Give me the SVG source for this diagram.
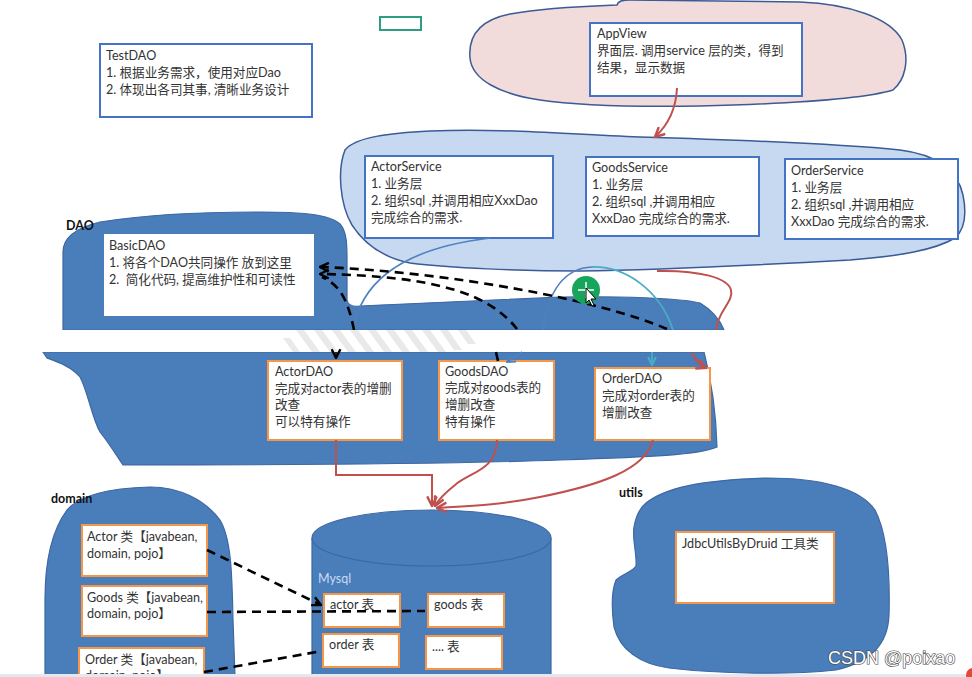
<svg xmlns="http://www.w3.org/2000/svg" width="972" height="677" viewBox="0 0 972 677">
<defs>
<style>
.t{font-family:Lato,"Noto Sans CJK SC",sans-serif;font-size:12.6px;fill:#333}
.lbl{font-family:Lato,"Noto Sans CJK SC",sans-serif;font-size:12.5px;font-weight:bold;fill:#111}
.bbox{fill:#fff;stroke:#4472c4;stroke-width:2}
.obox{fill:#fff;stroke:#f79646;stroke-width:2}
.wbox{fill:#fff}
.blob{fill:#4a7ebb;stroke:#3d68a3;stroke-width:1.2}
.dash{fill:none;stroke:#000;stroke-width:2.6;stroke-dasharray:9 6}
.red{fill:none;stroke:#c0504d;stroke-width:2}
.blue{fill:none;stroke:#4f81bd;stroke-width:1.6}
.cyan{fill:none;stroke:#4bacc6;stroke-width:1.8}
</style>
<marker id="mBlack" viewBox="0 0 10 10" refX="9" refY="5" markerWidth="11" markerHeight="11" orient="auto" markerUnits="userSpaceOnUse"><path d="M1,1 L9,5 L1,9" fill="none" stroke="#000" stroke-width="2.2"/></marker>
<marker id="mRed" viewBox="0 0 10 10" refX="9" refY="5" markerWidth="12" markerHeight="12" orient="auto" markerUnits="userSpaceOnUse"><path d="M1,1 L9,5 L1,9" fill="none" stroke="#c0504d" stroke-width="2"/></marker>
<marker id="mCyan" viewBox="0 0 10 10" refX="9" refY="5" markerWidth="10" markerHeight="10" orient="auto" markerUnits="userSpaceOnUse"><path d="M1,1 L9,5 L1,9" fill="none" stroke="#4bacc6" stroke-width="2"/></marker>
<marker id="mBlue" viewBox="0 0 10 10" refX="9" refY="5" markerWidth="10" markerHeight="10" orient="auto" markerUnits="userSpaceOnUse"><path d="M1,1 L9,5 L1,9" fill="none" stroke="#4f81bd" stroke-width="2"/></marker>
</defs>
<rect width="972" height="677" fill="#fff"/>

<g id="regions">
<path id="appview-region" d="M470,58 C468,35 480,20 510,14 C550,7 590,6 617,5 C618,1 622,0 630,0 L800,2 C850,4 890,18 902,40 C910,60 905,80 893,90 C860,100 780,104 700,106 C640,107 580,106 540,100 C500,94 472,80 470,58 Z" fill="#f2dcdb" stroke="#3b5a96" stroke-width="1.5"/>
<path id="service-region" d="M345,150 C355,137 390,133 430,131 C500,128 560,134 640,137 C740,140 840,144 900,150 C940,155 958,172 963,195 C967,215 964,230 955,238 C935,250 900,256 850,260 C760,265 660,270 580,271 C520,271 450,268 410,263 C385,258 365,245 352,225 C340,205 337,170 345,150 Z" fill="#c6d9f1" stroke="#3b5a96" stroke-width="1.5"/>
<path id="dao-region-top" class="blob" d="M63,330 L63,252 C63,238 75,228 100,222 C150,214 200,212 260,212 C300,212 330,214 340,224 C347,232 347,245 347,260 L347,300 C348,305 352,307 360,306 C420,303 500,300 560,297 C620,296 680,298 700,303 C712,310 720,320 724,330 Z"/>
<path id="dao-region-bottom" class="blob" d="M43,352 L704,352 C710,375 716,410 717,447 C700,455 650,457 560,460 C450,464 300,465 123,465 C117,456 108,442 100,432 C92,418 88,392 80,377 C72,367 58,362 47,358 Z"/>
<path id="domain-region" class="blob" d="M67,510 C80,495 110,488 150,487 C180,487 205,500 220,520 C232,540 232,580 233,620 L235,677 L45,677 L45,600 C45,560 52,530 67,510 Z"/>
<path id="utils-region" class="blob" d="M646,503 C665,488 700,480 767,478 C820,478 860,488 875,510 C888,535 890,580 889,615 C888,645 870,662 836,670 C790,675 720,674 669,668 C640,664 620,650 614,627 C611,605 612,590 616,580 C622,574 634,571 636,566 C637,553 632,540 634,527 C636,515 640,508 646,503 Z"/>
<text class="lbl" x="66" y="230">DAO</text>
<text class="lbl" x="51" y="503">domain</text>
<text class="lbl" x="619" y="497">utils</text>
</g>

<rect x="380" y="17" width="41" height="13" fill="none" stroke="#2e9e80" stroke-width="2"/>

<g id="TestDAO">
<rect class="bbox" x="100" y="44" width="212" height="73"/>
<text class="t" x="106" y="60">TestDAO</text>
<text class="t" x="106" y="77">1. 根据业务需求，使用对应Dao</text>
<text class="t" x="106" y="94">2. 体现出各司其事, 清晰业务设计</text>
</g>

<g id="AppView">
<rect class="bbox" x="590" y="23" width="212" height="73"/>
<text class="t" x="597" y="38">AppView</text>
<text class="t" x="597" y="55">界面层. 调用service 层的类，得到</text>
<text class="t" x="597" y="72">结果，显示数据</text>
</g>

<g id="ActorService">
<rect class="bbox" x="365" y="156" width="188" height="82"/>
<text class="t" x="371" y="171">ActorService</text>
<text class="t" x="371" y="188">1. 业务层</text>
<text class="t" x="371" y="205">2. 组织sql ,并调用相应XxxDao</text>
<text class="t" x="371" y="222">完成综合的需求.</text>
</g>

<g id="GoodsService">
<rect class="bbox" x="586" y="157" width="173" height="79"/>
<text class="t" x="592" y="172">GoodsService</text>
<text class="t" x="592" y="189">1. 业务层</text>
<text class="t" x="592" y="206">2. 组织sql ,并调用相应</text>
<text class="t" x="592" y="223">XxxDao 完成综合的需求.</text>
</g>

<g id="OrderService">
<rect class="bbox" x="785" y="159" width="173" height="80"/>
<text class="t" x="791" y="175">OrderService</text>
<text class="t" x="791" y="192">1. 业务层</text>
<text class="t" x="791" y="209">2. 组织sql ,并调用相应</text>
<text class="t" x="791" y="226">XxxDao 完成综合的需求.</text>
</g>

<g id="BasicDAO">
<rect class="wbox" x="104" y="234" width="210" height="82"/>
<text class="t" x="109" y="250">BasicDAO</text>
<text class="t" x="109" y="267">1. 将各个DAO共同操作 放到这里</text>
<text class="t" x="109" y="284">2.&#160; 简化代码, 提高维护性和可读性</text>
</g>

<g id="ActorDAO">
<rect class="obox" x="268" y="361" width="134" height="79"/>
<text class="t" x="275" y="376">ActorDAO</text>
<text class="t" x="275" y="393">完成对actor表的增删</text>
<text class="t" x="275" y="409">改查</text>
<text class="t" x="275" y="426">可以特有操作</text>
</g>

<g id="GoodsDAO">
<rect class="obox" x="439" y="361" width="115" height="79"/>
<text class="t" x="445" y="376">GoodsDAO</text>
<text class="t" x="445" y="392">完成对goods表的</text>
<text class="t" x="445" y="409">增删改查</text>
<text class="t" x="445" y="426">特有操作</text>
</g>

<g id="OrderDAO">
<rect class="obox" x="595" y="368" width="115" height="72"/>
<text class="t" x="602" y="383">OrderDAO</text>
<text class="t" x="602" y="400">完成对order表的</text>
<text class="t" x="602" y="417">增删改查</text>
</g>

<g id="Mysql">
<path d="M312,538 L312,677 L551,677 L551,538" fill="#4a7ebb" stroke="#3d68a3" stroke-width="1.2"/>
<ellipse cx="431.5" cy="538" rx="119.5" ry="28" fill="#4a7ebb" stroke="#3d68a3" stroke-width="1.2"/>
<text x="318" y="583" style="font-family:Lato,sans-serif;font-size:12.5px;fill:#c9dcf2">Mysql</text>
</g>

<g id="actor-table"><rect class="obox" x="324" y="594" width="76" height="33"/><text class="t" x="330" y="609">actor 表</text></g>
<g id="goods-table"><rect class="obox" x="428" y="594" width="76" height="33"/><text class="t" x="434" y="609">goods 表</text></g>
<g id="order-table"><rect class="obox" x="323" y="634" width="76" height="33"/><text class="t" x="329" y="649">order 表</text></g>
<g id="more-table"><rect class="obox" x="426" y="636" width="76" height="33"/><text class="t" x="432" y="651">.... 表</text></g>

<g id="Actor">
<rect class="obox" x="82" y="525" width="125" height="51"/>
<text class="t" x="87" y="541">Actor 类【javabean,</text>
<text class="t" x="87" y="558">domain, pojo】</text>
</g>
<g id="Goods">
<rect class="obox" x="82" y="586" width="125" height="50"/>
<text class="t" x="87" y="602">Goods 类【javabean,</text>
<text class="t" x="87" y="618">domain, pojo】</text>
</g>
<g id="Order">
<rect class="obox" x="79" y="648" width="125" height="40"/>
<text class="t" x="85" y="664">Order 类【javabean,</text>
<text class="t" x="85" y="680">domain, pojo】</text>
</g>

<g id="JdbcUtilsByDruid">
<rect class="obox" x="676" y="532" width="158" height="71"/>
<text class="t" x="682" y="548">JdbcUtilsByDruid 工具类</text>
</g>

<g id="connectors">
<path class="red" d="M677,88 C676,110 668,125 655,137" marker-end="url(#mRed)"/>
<path class="blue" d="M353,330 C360,290 390,250 490,238"/>
<path class="blue" d="M543,330 C548,290 565,268 592,267"/>
<path class="cyan" d="M592,267 C625,266 660,290 673,330"/>
<path class="dash" d="M667,329 C600,300 450,272 320,267" marker-end="url(#mBlack)"/>
<path class="dash" d="M517,329 C490,295 440,276 320,274" marker-end="url(#mBlack)"/>
<path class="dash" d="M354,330 C348,300 340,285 322,277"/>
<path class="red" d="M657,271 C700,270 728,278 731,290 C734,302 718,310 716,330"/>
<path class="red" d="M336,440 V475 H432 V506" marker-end="url(#mRed)"/>
<path class="red" d="M497,440 C497,470 470,472 455,485 C445,493 438,500 435,506" marker-end="url(#mRed)"/>
<path class="red" d="M653,440 C645,470 600,485 540,497 C500,505 470,506 437,508" marker-end="url(#mRed)"/>
<path class="dash" d="M207,550 L321,605" marker-end="url(#mBlack)"/>
<path class="dash" d="M207,612 L425,611"/>
<path class="dash" d="M204,672 L322,651"/>
</g>

<rect x="0" y="330" width="972" height="22" fill="#fff"/>
<g fill="#e9e9e9">
<polygon points="283,338 290,338 300,352 293,352"/>
<polygon points="296,330 304,330 320,352 312,352"/>
<polygon points="314,330 322,330 338,352 330,352"/>
<polygon points="332,330 340,330 356,352 348,352"/>
<polygon points="350,330 358,330 374,352 366,352"/>
<polygon points="368,330 376,330 392,352 384,352"/>
<polygon points="386,330 394,330 410,352 402,352"/>
<polygon points="404,330 412,330 428,352 420,352"/>
<polygon points="422,330 430,330 446,352 438,352"/>
<polygon points="440,330 448,330 462,350 454,350"/>
<polygon points="458,330 466,330 476,344 468,344"/>
</g>
<g id="connectors-below-gap">
<path d="M336,352 L336,358" fill="none" stroke="#222" stroke-width="2" marker-end="url(#mBlack)"/>
<path d="M496,352 L498,361" fill="none" stroke="#000" stroke-width="2.6"/>
<path class="blue" d="M522,352 Q514,358 507,362" marker-end="url(#mBlue)"/>
<path class="cyan" d="M652,352 L652,365" marker-end="url(#mCyan)"/>
<path class="red" d="M692,353 Q697,364 706,368" marker-end="url(#mRed)"/>
</g>

<g id="cursor">
<circle cx="586" cy="290" r="14" fill="#17a55c"/>
<path d="M586,282 V298 M578,290 H594" stroke="#fff" stroke-width="1.5"/>
<polygon points="586,288 586,303 589,300 592,306 594,305 591,299 596,299" fill="#fff" stroke="#000" stroke-width="1"/>
</g>

<rect x="0" y="674" width="972" height="3" fill="#e3e7ee"/>
<circle cx="973" cy="675" r="7" fill="#e5483a"/>
<text x="828" y="664" style="font-family:'Liberation Sans',sans-serif;font-size:18px;fill:#fff;stroke:#444;stroke-width:1.2;paint-order:stroke">CSDN @poixao</text>
</svg>
